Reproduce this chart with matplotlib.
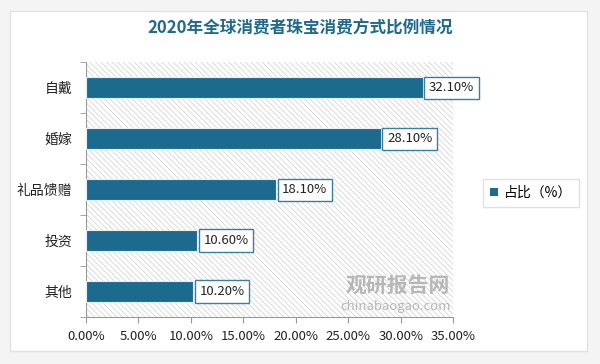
import matplotlib
matplotlib.use('Agg')
import matplotlib.pyplot as plt
from matplotlib.patches import Rectangle, Patch
from matplotlib.ticker import FuncFormatter, FixedLocator

plt.rcParams['font.family'] = ['Noto Sans CJK SC', 'DejaVu Sans']
plt.rcParams['hatch.linewidth'] = 0.6

title = '2020年全球消费者珠宝消费方式比例情况'
categories = ['自戴', '婚嫁', '礼品馈赠', '投资', '其他']
values = [32.10, 28.10, 18.10, 10.60, 10.20]
series_name = '占比（%）'
bar_color = '#1c6b8f'

fig = plt.figure(figsize=(6, 3.64), dpi=100)
fig.patch.set_facecolor('#f4f4f4')
# white card
fig.add_artist(Rectangle((0.016, 0.035), 0.962, 0.935, transform=fig.transFigure,
                         facecolor='white', edgecolor='#e2e2e2', lw=1, zorder=0))

ax = fig.add_axes([0.1433, 0.129, 0.612, 0.70])
ax.set_facecolor('none')
ax.add_patch(Rectangle((0, 0), 1, 1, transform=ax.transAxes, facecolor='white',
                       edgecolor='#d6d6d6', hatch='\\\\\\\\\\\\', lw=0, zorder=0))

ypos = list(range(len(categories)))[::-1]
ax.barh(ypos, values, height=0.42, color=bar_color, edgecolor='#e8eef2', lw=0.8, zorder=3)

for y, v in zip(ypos, values):
    ax.text(v + 0.6, y, f'{v:.2f}%', va='center', ha='left', fontsize=9.5, color='#222222',
            zorder=4, bbox=dict(boxstyle='square,pad=0.35', fc='white', ec='#3a7fa0', lw=1))

ax.set_xlim(0, 35)
ax.set_ylim(-0.5, 4.5)
ax.set_xticks([0, 5, 10, 15, 20, 25, 30, 35])
ax.xaxis.set_major_formatter(FuncFormatter(lambda x, p: f'{x:.2f}%'))
ax.set_yticks(ypos)
ax.set_yticklabels(categories)
ax.yaxis.set_minor_locator(FixedLocator([-0.5, 0.5, 1.5, 2.5, 3.5, 4.5]))
ax.tick_params(axis='y', which='major', length=0, pad=10, labelsize=10, labelcolor='#222222')
ax.tick_params(axis='y', which='minor', length=4, color='#999999', direction='out')
ax.tick_params(axis='x', length=4, color='#999999', labelsize=9.5, labelcolor='#222222', pad=5)
for s in ['top', 'right']:
    ax.spines[s].set_visible(False)
for s in ['left', 'bottom']:
    ax.spines[s].set_color('#999999')

fig.text(0.5, 0.922, title, ha='center', va='center', fontsize=12, fontweight='bold',
         color='#1f6a8c')

leg = fig.legend(handles=[Patch(facecolor=bar_color, label=series_name)],
                 loc='center', bbox_to_anchor=(0.885, 0.47), fontsize=10, frameon=True,
                 handlelength=0.6, handleheight=0.6, handletextpad=0.4, fancybox=False,
                 borderpad=0.5)
leg.get_frame().set_edgecolor('#d9d9d9')

# watermark
fig.text(0.576, 0.217, '观研报告网', fontsize=15, fontweight='bold', color='#b0b0b0',
         va='center', alpha=0.9)
fig.text(0.568, 0.148, 'chinabaogao.com', fontsize=9.5, color='#b0b0b0', alpha=0.9)

fig.savefig('out.png', dpi=100)
